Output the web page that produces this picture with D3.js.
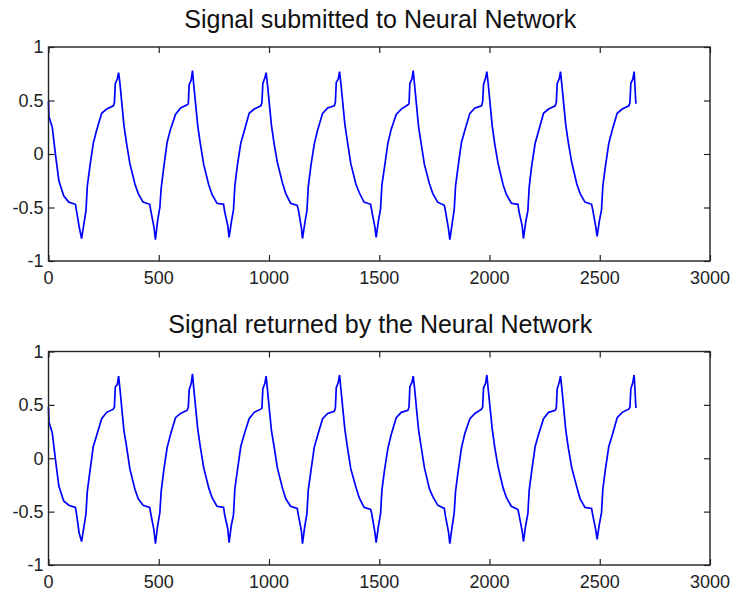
<!DOCTYPE html>
<html>
<head>
<meta charset="utf-8">
<script src="https://cdn.jsdelivr.net/npm/d3@7"></script>
<style>
  body { margin: 0; background: #fff; }
  svg { display: block; }
  text { font-family: Arial, "Liberation Sans", sans-serif; }
</style>
</head>
<body>
<div id="chart"></div>
<script>
// sample index (x) shared by both signals
var sampleIdx = [
  0,2,17,32,47,69,92,122,127,139,
  150,160,170,176,188,203,218,241,264,294,299,303,312,318,324,342,354,369,392,407,429,459,464,478,
  485,495,505,511,523,538,553,576,599,629,634,638,647,653,659,677,689,704,727,742,764,794,799,813,
  819,829,839,845,857,872,887,910,933,963,968,972,981,987,993,1011,1023,1038,1061,1076,1098,1128,1133,1147,
  1152,1162,1172,1178,1190,1205,1220,1243,1266,1296,1301,1305,1314,1320,1326,1344,1356,1371,1394,1409,1431,1461,1466,1480,
  1486,1496,1506,1512,1524,1539,1554,1577,1600,1630,1635,1639,1648,1654,1660,1678,1690,1705,1728,1743,1765,1795,1800,1814,
  1820,1830,1840,1846,1858,1873,1888,1911,1934,1964,1969,1973,1982,1988,1994,2012,2024,2039,2062,2077,2099,2129,2134,2148,
  2154,2164,2174,2180,2192,2207,2222,2245,2268,2298,2303,2307,2316,2322,2328,2346,2358,2373,2396,2411,2433,2463,2468,2482,
  2488,2498,2508,2514,2526,2541,2556,2579,2602,2632,2637,2641,2650,2656,2660,2664
];

var submitted = [
  0.49,0.35,0.25,-0.01,-0.25,-0.39,-0.45,-0.47,-0.53,-0.68,
  -0.79,-0.66,-0.53,-0.30,-0.11,0.10,0.22,0.38,0.42,0.45,0.48,0.66,0.70,0.76,0.66,0.27,0.10,-0.09,-0.28,-0.37,-0.45,-0.47,-0.53,-0.68,
  -0.80,-0.62,-0.50,-0.32,-0.12,0.11,0.23,0.37,0.43,0.46,0.47,0.65,0.69,0.78,0.64,0.26,0.09,-0.10,-0.29,-0.38,-0.46,-0.47,-0.54,-0.67,
  -0.78,-0.64,-0.52,-0.30,-0.10,0.10,0.21,0.38,0.42,0.45,0.48,0.66,0.71,0.76,0.65,0.27,0.10,-0.08,-0.27,-0.37,-0.46,-0.48,-0.52,-0.69,
  -0.79,-0.65,-0.53,-0.31,-0.11,0.09,0.22,0.38,0.43,0.45,0.48,0.67,0.70,0.77,0.66,0.28,0.11,-0.09,-0.28,-0.36,-0.45,-0.47,-0.53,-0.68,
  -0.78,-0.63,-0.51,-0.29,-0.12,0.10,0.23,0.37,0.42,0.46,0.47,0.66,0.70,0.78,0.65,0.26,0.10,-0.10,-0.28,-0.37,-0.45,-0.48,-0.53,-0.70,
  -0.80,-0.66,-0.52,-0.30,-0.11,0.11,0.22,0.38,0.43,0.45,0.49,0.65,0.71,0.77,0.66,0.27,0.09,-0.09,-0.29,-0.38,-0.46,-0.47,-0.54,-0.67,
  -0.79,-0.64,-0.53,-0.31,-0.10,0.10,0.21,0.38,0.42,0.45,0.48,0.66,0.70,0.77,0.65,0.27,0.10,-0.08,-0.28,-0.37,-0.45,-0.47,-0.52,-0.68,
  -0.77,-0.63,-0.52,-0.30,-0.11,0.10,0.22,0.38,0.42,0.45,0.48,0.66,0.70,0.77,0.62,0.47
];

var returned = [
  0.48,0.34,0.24,-0.02,-0.26,-0.40,-0.44,-0.46,-0.52,-0.70,
  -0.78,-0.65,-0.52,-0.31,-0.12,0.11,0.21,0.37,0.43,0.46,0.48,0.67,0.69,0.77,0.65,0.26,0.11,-0.10,-0.29,-0.38,-0.44,-0.46,-0.52,-0.67,
  -0.80,-0.63,-0.51,-0.31,-0.11,0.10,0.22,0.38,0.42,0.45,0.48,0.64,0.70,0.79,0.65,0.27,0.10,-0.09,-0.28,-0.37,-0.45,-0.46,-0.53,-0.66,
  -0.79,-0.63,-0.53,-0.29,-0.11,0.11,0.22,0.37,0.43,0.46,0.47,0.65,0.70,0.77,0.64,0.26,0.11,-0.09,-0.28,-0.38,-0.45,-0.47,-0.53,-0.68,
  -0.80,-0.64,-0.52,-0.30,-0.12,0.10,0.21,0.37,0.42,0.44,0.47,0.66,0.71,0.78,0.65,0.27,0.10,-0.10,-0.27,-0.37,-0.46,-0.48,-0.52,-0.69,
  -0.79,-0.64,-0.52,-0.30,-0.11,0.09,0.22,0.38,0.43,0.45,0.48,0.67,0.71,0.77,0.66,0.27,0.11,-0.09,-0.29,-0.36,-0.44,-0.47,-0.54,-0.69,
  -0.80,-0.65,-0.51,-0.31,-0.12,0.10,0.23,0.37,0.42,0.46,0.48,0.66,0.70,0.78,0.65,0.28,0.10,-0.08,-0.28,-0.37,-0.45,-0.48,-0.53,-0.68,
  -0.78,-0.63,-0.52,-0.30,-0.11,0.11,0.22,0.37,0.43,0.45,0.47,0.65,0.71,0.77,0.66,0.26,0.09,-0.09,-0.27,-0.38,-0.46,-0.47,-0.53,-0.67,
  -0.76,-0.62,-0.51,-0.29,-0.10,0.11,0.21,0.38,0.43,0.46,0.48,0.65,0.71,0.78,0.63,0.47
];

var titles = ["Signal submitted to Neural Network", "Signal returned by the Neural Network"];
var xTicks = [0, 500, 1000, 1500, 2000, 2500, 3000];
var yTicks = [-1, -0.5, 0, 0.5, 1];

var W = 734, H = 593;
var left = 48.5, right = 710;
var panels = [
  { top: 47, bottom: 261, title: titles[0], values: submitted },
  { top: 351.5, bottom: 565, title: titles[1], values: returned }
];

var svg = d3.select("#chart").append("svg")
  .attr("width", W)
  .attr("height", H);

var x = d3.scaleLinear().domain([0, 3000]).range([left, right]);
var tickLen = 6;

panels.forEach(function(p) {
  var y = d3.scaleLinear().domain([-1, 1]).range([p.bottom, p.top]);
  var g = svg.append("g");

  // title
  g.append("text")
    .attr("x", (left + right) / 2 + 1)
    .attr("y", p.top - 19)
    .attr("text-anchor", "middle")
    .style("font-size", "25px")
    .style("fill", "#111")
    .text(p.title);

  // signal line
  var line = d3.line()
    .x(function(d, i) { return x(sampleIdx[i]); })
    .y(function(d) { return y(d); });

  g.append("path")
    .datum(p.values)
    .attr("d", line)
    .attr("fill", "none")
    .attr("stroke", "#0000ff")
    .attr("stroke-width", 1.7)
    .attr("stroke-linejoin", "miter");

  // inward ticks on all four sides (matlab style)
  var axB = d3.axisBottom(x).tickValues(xTicks).tickSize(-tickLen).tickFormat("");
  var axT = d3.axisTop(x).tickValues(xTicks).tickSize(-tickLen).tickFormat("");
  var axL = d3.axisLeft(y).tickValues(yTicks).tickSize(-tickLen).tickFormat("");
  var axR = d3.axisRight(y).tickValues(yTicks).tickSize(-tickLen).tickFormat("");

  g.append("g").attr("transform", "translate(0," + p.bottom + ")").call(axB);
  g.append("g").attr("transform", "translate(0," + p.top + ")").call(axT);
  g.append("g").attr("transform", "translate(" + left + ",0)").call(axL);
  g.append("g").attr("transform", "translate(" + right + ",0)").call(axR);
  g.selectAll(".domain").remove();
  g.selectAll(".tick line").attr("stroke", "#222").attr("stroke-width", 1.2);

  // box
  g.append("rect")
    .attr("x", left)
    .attr("y", p.top)
    .attr("width", right - left)
    .attr("height", p.bottom - p.top)
    .attr("fill", "none")
    .attr("stroke", "#222")
    .attr("stroke-width", 1.4);

  // tick labels
  g.selectAll(".xlab")
    .data(xTicks)
    .enter().append("text")
    .attr("class", "xlab")
    .attr("x", function(d) { return x(d); })
    .attr("y", p.bottom + 23)
    .attr("text-anchor", "middle")
    .style("font-size", "18px")
    .style("fill", "#222")
    .text(function(d) { return String(d); });

  g.selectAll(".ylab")
    .data(yTicks)
    .enter().append("text")
    .attr("class", "ylab")
    .attr("x", left - 5)
    .attr("y", function(d) { return y(d); })
    .attr("dy", "0.36em")
    .attr("text-anchor", "end")
    .style("font-size", "18px")
    .style("fill", "#222")
    .text(function(d) { return String(d); });
});
</script>
</body>
</html>
